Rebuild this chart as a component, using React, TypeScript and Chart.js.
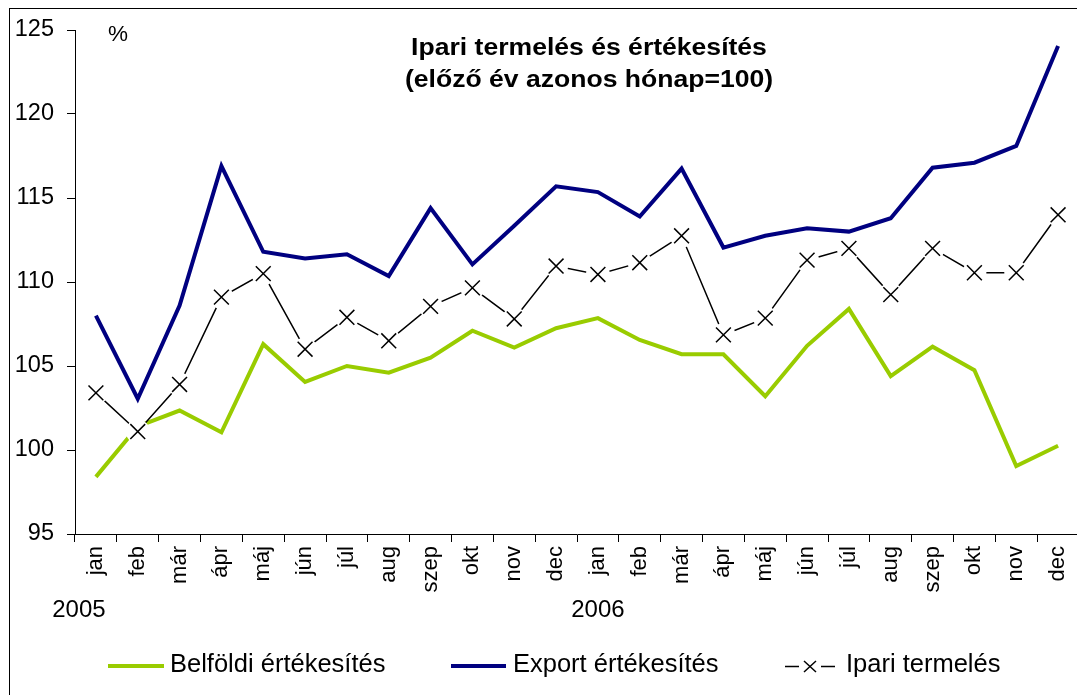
import { useEffect, useRef } from "react";
import { Chart, registerables } from "chart.js";

Chart.register(...registerables);

const categories = [
  "jan", "feb", "már", "ápr", "máj", "jún", "júl", "aug", "szep", "okt", "nov", "dec",
  "jan", "feb", "már", "ápr", "máj", "jún", "júl", "aug", "szep", "okt", "nov", "dec",
];
const yearLabels = ["2005", "2006"];
const yearIndex = [0, 12];
const seriesNames = ["Belföldi értékesítés", "Export értékesítés", "Ipari termelés"];
const titleLines = ["Ipari termelés és értékesítés", "(előző év azonos hónap=100)"];
const unitLabel = "%";

const belfoldi = [
  98.4, 101.4, 102.35, 101.05, 106.3, 104.05, 105.0, 104.6, 105.5, 107.1, 106.1, 107.25,
  107.85, 106.55, 105.7, 105.7, 103.2, 106.2, 108.4, 104.4, 106.15, 104.75, 99.05, 100.25,
];
const exportErt = [
  108.0, 103.05, 108.6, 116.9, 111.8, 111.4, 111.65, 110.35, 114.4, 111.05, 113.35, 115.7,
  115.35, 113.9, 116.75, 112.05, 112.75, 113.2, 113.0, 113.8, 116.8, 117.1, 118.1, 124.05,
];
const ipari = [
  103.4, 101.1, 103.9, 109.1, 110.5, 106.0, 107.9, 106.5, 108.55, 109.65, 107.8, 110.95,
  110.45, 111.15, 112.75, 106.85, 107.85, 111.3, 112.0, 109.25, 112.0, 110.55, 110.55, 114.0,
];

const yMin = 95;
const yMax = 125;
const yStep = 5;

const FONT = '"Liberation Sans", Arial, Helvetica, sans-serif';
const GREEN = "#99CC00";
const NAVY = "#000080";
const BLACK = "#000000";

function stretchText(
  ctx: CanvasRenderingContext2D,
  text: string,
  x: number,
  y: number,
  font: string,
  align: CanvasTextAlign,
  sx: number
) {
  ctx.save();
  ctx.translate(x, y);
  ctx.scale(sx, 1);
  ctx.font = font;
  ctx.textAlign = align;
  ctx.textBaseline = "alphabetic";
  ctx.fillStyle = BLACK;
  ctx.fillText(text, 0, 0);
  ctx.restore();
}

const decorPlugin = {
  id: "decor",
  afterDraw(chart: any) {
    const ctx: CanvasRenderingContext2D = chart.ctx;
    const xs = chart.scales.x;
    ctx.save();
    // outer frame
    ctx.strokeStyle = BLACK;
    ctx.lineWidth = 1;
    ctx.strokeRect(9.5, 8.5, chart.width + 100, chart.height + 100);

    // title
    stretchText(ctx, titleLines[0], 589, 54.5, `bold 23.5px ${FONT}`, "center", 1.13);
    stretchText(ctx, titleLines[1], 589, 87, `bold 23.5px ${FONT}`, "center", 1.13);

    // unit
    stretchText(ctx, unitLabel, 108, 40.5, `22.5px ${FONT}`, "left", 1);

    // years
    stretchText(ctx, yearLabels[0], xs.getPixelForValue(yearIndex[0]) - 17, 617, `24px ${FONT}`, "center", 1);
    stretchText(ctx, yearLabels[1], xs.getPixelForValue(yearIndex[1]), 617, `24px ${FONT}`, "center", 1);

    // legend
    const ly = 666;
    const ds = chart.data.datasets;
    ctx.lineCap = "butt";
    // green
    ctx.strokeStyle = ds[0].borderColor;
    ctx.lineWidth = 4;
    ctx.beginPath();
    ctx.moveTo(108, ly);
    ctx.lineTo(164, ly);
    ctx.stroke();
    stretchText(ctx, seriesNames[0], 170, 672, `25.5px ${FONT}`, "left", 1);
    // blue
    ctx.strokeStyle = ds[1].borderColor;
    ctx.beginPath();
    ctx.moveTo(451, ly);
    ctx.lineTo(506, ly);
    ctx.stroke();
    stretchText(ctx, seriesNames[1], 513, 672, `25.5px ${FONT}`, "left", 1);
    // ipari
    ctx.strokeStyle = BLACK;
    ctx.lineWidth = 1.5;
    ctx.beginPath();
    ctx.moveTo(785, ly + 0.5);
    ctx.lineTo(799, ly + 0.5);
    ctx.moveTo(821, ly + 0.5);
    ctx.lineTo(835, ly + 0.5);
    ctx.moveTo(804, ly - 5);
    ctx.lineTo(816, ly + 6);
    ctx.moveTo(816, ly - 5);
    ctx.lineTo(804, ly + 6);
    ctx.stroke();
    stretchText(ctx, seriesNames[2], 846, 672, `25.5px ${FONT}`, "left", 1);

    ctx.restore();
  },
};

export default function App() {
  const canvasRef = useRef<HTMLCanvasElement | null>(null);

  useEffect(() => {
    const canvas = canvasRef.current;
    if (!canvas) return;
    const chart = new Chart(canvas, {
      type: "line",
      data: {
        labels: categories,
        datasets: [
          {
            label: seriesNames[0],
            data: belfoldi,
            borderColor: GREEN,
            backgroundColor: GREEN,
            borderWidth: 4,
            pointRadius: 0,
            tension: 0,
            order: 5,
          },
          {
            label: seriesNames[1],
            data: exportErt,
            borderColor: NAVY,
            backgroundColor: NAVY,
            borderWidth: 4,
            pointRadius: 0,
            tension: 0,
            order: 4,
          },
          {
            label: seriesNames[2],
            data: ipari,
            borderColor: BLACK,
            backgroundColor: BLACK,
            borderWidth: 1.5,
            pointRadius: 0,
            tension: 0,
            order: 3,
          },
          {
            label: "halo",
            data: ipari,
            showLine: false,
            pointStyle: "circle",
            pointRadius: 12,
            pointBackgroundColor: "#ffffff",
            pointBorderWidth: 0,
            pointBorderColor: "#ffffff",
            order: 2,
          },
          {
            label: "markers",
            data: ipari,
            showLine: false,
            pointStyle: "crossRot",
            pointRadius: 10.5,
            pointBorderColor: BLACK,
            pointBorderWidth: 1.5,
            order: 1,
          },
        ],
      },
      options: {
        animation: false,
        responsive: false,
        devicePixelRatio: 1,
        layout: { padding: { left: 0, top: 30, right: 21, bottom: 0 } },
        plugins: {
          legend: { display: false },
          title: { display: false },
          tooltip: { enabled: false },
        },
        scales: {
          x: {
            type: "category",
            offset: true,
            grid: {
              offset: true,
              drawOnChartArea: false,
              drawTicks: true,
              tickLength: 8,
              color: BLACK,
              lineWidth: 1,
            },
            border: { display: true, color: BLACK, width: 1 },
            ticks: {
              autoSkip: false,
              minRotation: 90,
              maxRotation: 90,
              padding: 4,
              color: BLACK,
              font: { family: FONT, size: 22 },
            },
            afterFit: (scale: any) => {
              scale.height = 161;
            },
          },
          y: {
            min: yMin,
            max: yMax,
            grid: {
              drawOnChartArea: false,
              drawTicks: true,
              tickLength: 8,
              color: BLACK,
              lineWidth: 1,
            },
            border: { display: true, color: BLACK, width: 1 },
            ticks: {
              stepSize: yStep,
              padding: 13,
              color: BLACK,
              font: { family: FONT, size: 23.5 },
            },
            afterFit: (scale: any) => {
              scale.width = 75;
            },
          },
        },
      },
      plugins: [decorPlugin],
    });
    return () => chart.destroy();
  }, []);

  return (
    <div
      style={{
        position: "fixed",
        left: 0,
        top: 0,
        width: 1077,
        height: 695,
        overflow: "hidden",
        background: "#ffffff",
      }}
    >
      <canvas ref={canvasRef} width={1100} height={695} style={{ display: "block" }} />
    </div>
  );
}
